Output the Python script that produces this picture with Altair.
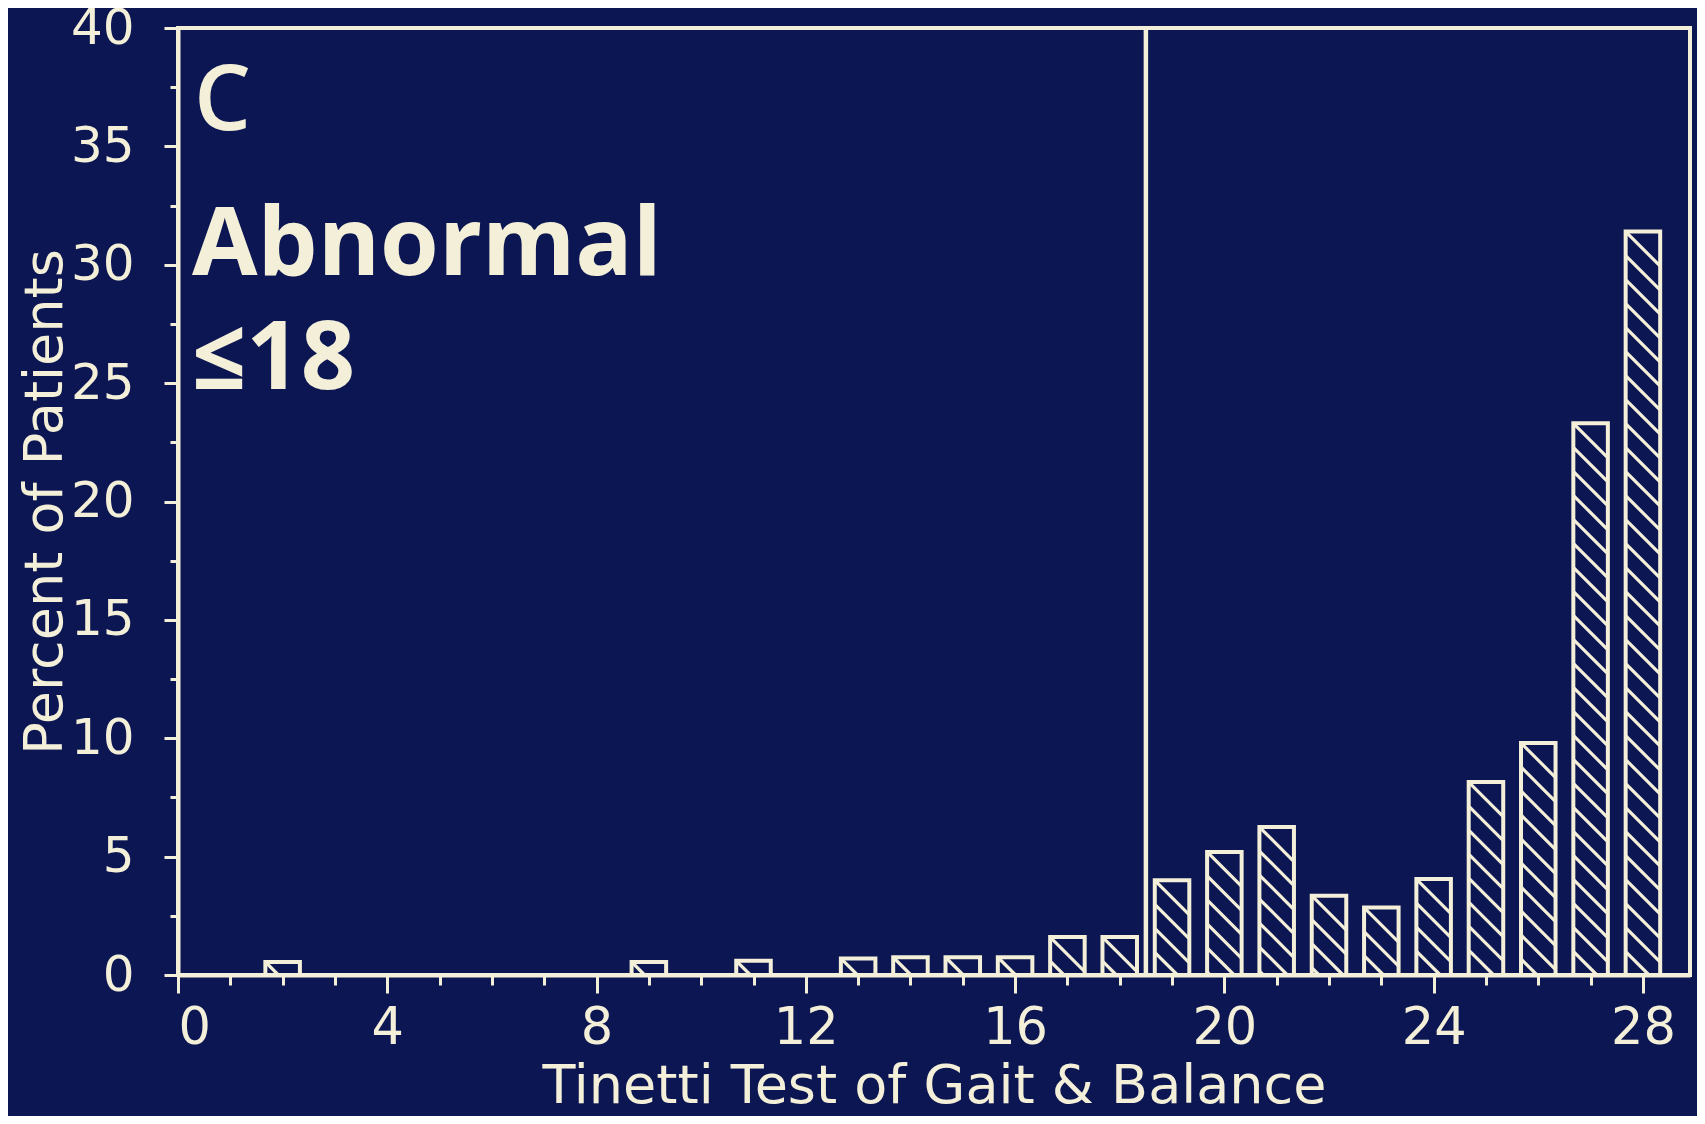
import altair as alt
import pandas as pd

# ---- data ----
scores = [2, 9, 11, 13, 14, 15, 16, 17, 18, 19, 20, 21, 22, 23, 24, 25, 26, 27, 28]
percent = [0.55, 0.55, 0.6, 0.7, 0.75, 0.75, 0.75, 1.6, 1.6,
           4.0, 5.2, 6.25, 3.35, 2.85, 4.05, 8.15, 9.8, 23.3, 31.4]
x_label_values = [0, 4, 8, 12, 16, 20, 24, 28]
y_label_values = [0, 5, 10, 15, 20, 25, 30, 35, 40]
cutoff = [18.5]
panel_texts = ["C", "Abnormal", "≤18"]

# ---- style / layout ----
BG = "#0c1652"
FG = "#f3efd8"
W, H = 1512, 947
X_MAX, Y_MAX = 28.9, 40
BAR_HALF = 0.33
HATCH_STEP = 24  # vertical spacing of hatch lines in px

px_x = W / X_MAX
px_y = H / Y_MAX

bars = pd.DataFrame({"score": scores, "pct": percent})
bars["x0"] = bars["score"] - BAR_HALF
bars["x1"] = bars["score"] + BAR_HALF
bars["y0"] = 0.0

# hatch segments derived from the bar values ("\" direction, 45 degrees on screen)
rows = []
for s, p in zip(scores, percent):
    x0 = s - BAR_HALF
    wp = 2 * BAR_HALF * px_x
    hp = p * px_y
    k = hp
    while k > 0:
        u1 = max(0.0, k - hp)
        u2 = min(wp, k)
        if u2 > u1:
            rows.append({
                "hx": x0 + u1 / px_x, "hy": (k - u1) / px_y,
                "hx2": x0 + u2 / px_x, "hy2": (k - u2) / px_y,
            })
        k -= HATCH_STEP
hatch = pd.DataFrame(rows)

xscale = alt.Scale(domain=[0, X_MAX], nice=False, zero=False)
yscale = alt.Scale(domain=[0, Y_MAX], nice=False, zero=False)

xaxis = alt.Axis(
    values=list(range(0, 29)),
    labelExpr="datum.value % 4 === 0 ? datum.label : ''",
    tickSize={"condition": {"test": "datum.value % 4 === 0", "value": 18}, "value": 10},
    title="Tinetti Test of Gait & Balance",
    labelPadding=10,
    titlePadding=6,
    labelFontSize=51,
    titleFontSize=54,
)
yaxis = alt.Axis(
    values=[v * 2.5 for v in range(0, 17)],
    labelExpr="datum.value % 5 === 0 ? datum.label : ''",
    tickSize={"condition": {"test": "datum.value % 5 === 0", "value": 14}, "value": 8},
    title="Percent of Patients",
    labelPadding=30,
    titlePadding=-2,
    labelFontSize=50,
    titleFontSize=54,
)

base_bars = alt.Chart(bars).mark_rect(
    fill=BG, stroke=FG, strokeWidth=4
).encode(
    x=alt.X("x0:Q", scale=xscale, axis=xaxis),
    x2="x1:Q",
    y=alt.Y("pct:Q", scale=yscale, axis=yaxis),
    y2="y0:Q",
)

hatch_layer = alt.Chart(hatch).mark_rule(
    stroke=FG, strokeWidth=3.2, strokeCap="butt"
).encode(
    x=alt.X("hx:Q", scale=xscale),
    x2="hx2:Q",
    y=alt.Y("hy:Q", scale=yscale),
    y2="hy2:Q",
)

divider = alt.Chart(pd.DataFrame({"cut": cutoff})).mark_rule(
    stroke=FG, strokeWidth=4.5
).encode(
    x=alt.X("cut:Q", scale=xscale),
    y=alt.value(0),
    y2=alt.value(H),
)

label_c = alt.Chart(pd.DataFrame({"t": [panel_texts[0]]})).mark_text(
    align="left", baseline="alphabetic", font="Open Sans", fontSize=90,
    fontWeight=600, color=FG
).encode(text="t:N", x=alt.value(16), y=alt.value(102))

label_abn = alt.Chart(pd.DataFrame({"t": [panel_texts[1]]})).mark_text(
    align="left", baseline="alphabetic", font="Open Sans", fontSize=95,
    fontWeight="bold", color=FG
).encode(text="t:N", x=alt.value(14), y=alt.value(247))

label_le = alt.Chart(pd.DataFrame({"t": [panel_texts[2]]})).mark_text(
    align="left", baseline="alphabetic", font="Open Sans", fontSize=95,
    fontWeight="bold", color=FG
).encode(text="t:N", x=alt.value(14), y=alt.value(361))

chart = alt.layer(
    base_bars, hatch_layer, divider, label_c, label_abn, label_le
).properties(
    width=W, height=H,
    autosize=alt.AutoSizeParams(type="none"),
    padding={"left": 170, "top": 20, "right": 7, "bottom": 141},
    background=BG,
).configure_view(
    stroke=FG, strokeWidth=4
).configure_axis(
    domainColor=FG, domainWidth=4,
    tickColor=FG, tickWidth=3,
    labelColor=FG, labelFont="DejaVu Sans",
    titleColor=FG, titleFont="DejaVu Sans", titleFontWeight="normal",
    grid=False,
)

chart.save("out.html", embed_options={"renderer": "svg", "actions": False})
